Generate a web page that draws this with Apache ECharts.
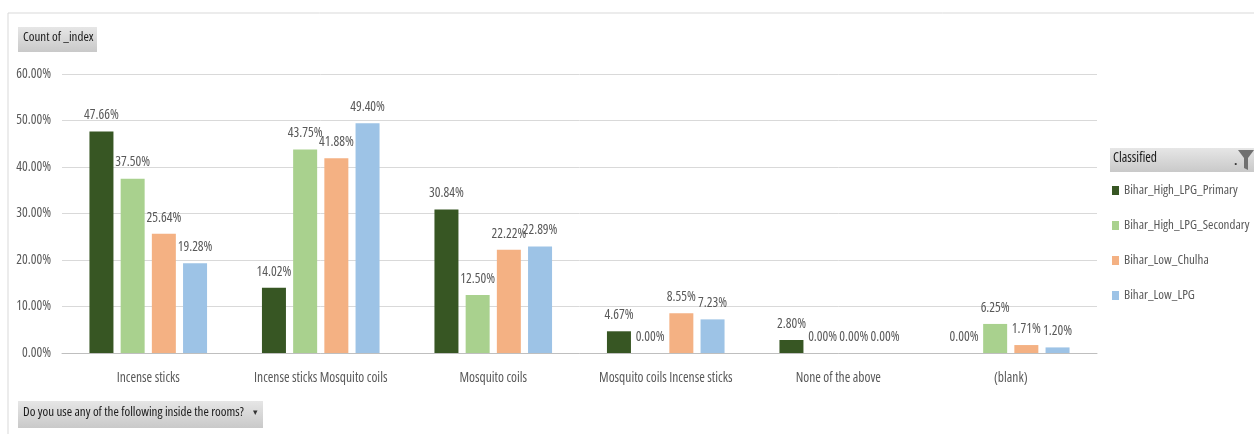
<!DOCTYPE html>
<html>
<head>
<meta charset="utf-8">
<script src="https://cdn.jsdelivr.net/npm/echarts@6/dist/echarts.min.js"></script>
<style>
  html, body { margin: 0; padding: 0; background: #fff; }
  #chart { width: 1254px; height: 434px; }
</style>
</head>
<body>
<div id="chart"></div>
<script>
var categories = ['Incense sticks', 'Incense sticks Mosquito coils', 'Mosquito coils',
  'Mosquito coils Incense sticks', 'None of the above', '(blank)'];
var seriesNames = ['Bihar_High_LPG_Primary', 'Bihar_High_LPG_Secondary', 'Bihar_Low_Chulha', 'Bihar_Low_LPG'];
var highPrimary = [47.66, 14.02, 30.84, 4.67, 2.80, 0.00];
var highSecondary = [37.50, 43.75, 12.50, 0.00, 0.00, 6.25];
var lowChulha = [25.64, 41.88, 22.22, 8.55, 0.00, 1.71];
var lowLpg = [19.28, 49.40, 22.89, 7.23, 0.00, 1.20];
var colors = ['#375623', '#a9d18e', '#f4b183', '#9dc3e6'];

// Open Sans has a condensed width, close to the narrow Excel font
var FONT = '"Open Sans", sans-serif';
var STRETCH = 'condensed';
var FS = 13.5;

var chart = echarts.init(document.getElementById('chart'));

var allData = [highPrimary, highSecondary, lowChulha, lowLpg];
var series = allData.map(function (d, i) {
  return {
    name: seriesNames[i],
    type: 'bar',
    data: d,
    barWidth: 24,
    barGap: '30%',
    itemStyle: { color: colors[i] },
    label: {
      show: true,
      position: 'top',
      distance: 9,
      color: '#595959',
      fontFamily: FONT,
      fontWeight: STRETCH,
      fontSize: FS,
      formatter: function (p) { return p.value.toFixed(2) + '%'; }
    }
  };
});

function btn(x, y, w, h, text) {
  return {
    type: 'group', left: x, top: y,
    children: [
      { type: 'rect', shape: { x: 0, y: 0, width: w, height: h },
        style: { fill: new echarts.graphic.LinearGradient(0, 0, 0, 1, [
          { offset: 0, color: '#e6e6e6' }, { offset: 1, color: '#c9c9c9' }]) } },
      { type: 'text', left: 5, top: (h - 17) / 2,
        style: { text: text, fill: '#1a1a1a', font: STRETCH + ' 13px ' + FONT } }
    ]
  };
}

chart.setOption({
  animation: false,
  color: colors,
  grid: { left: 62, right: 157, top: 74, bottom: 81, containLabel: false },
  xAxis: {
    type: 'category',
    data: categories,
    axisLine: { lineStyle: { color: '#bfbfbf' } },
    axisTick: { show: false },
    axisLabel: { color: '#595959', fontFamily: FONT, fontWeight: STRETCH, fontSize: FS, margin: 18, interval: 0 }
  },
  yAxis: {
    type: 'value',
    min: 0, max: 60, interval: 10,
    axisLine: { show: false },
    axisTick: { show: false },
    splitLine: { lineStyle: { color: '#d9d9d9' } },
    axisLabel: { color: '#595959', fontFamily: FONT, fontWeight: STRETCH, fontSize: FS, margin: 11,
      formatter: function (v) { return v.toFixed(2) + '%'; } }
  },
  legend: {
    orient: 'vertical',
    left: 1112, top: 184,
    itemWidth: 7, itemHeight: 9, itemGap: 22, padding: 0,
    icon: 'rect',
    textStyle: { color: '#595959', fontFamily: FONT, fontWeight: STRETCH, fontSize: 13 },
    data: seriesNames
  },
  graphic: [
    { type: 'line', shape: { x1: 8, y1: 13, x2: 1254, y2: 13 }, style: { stroke: '#d9d9d9', lineWidth: 1 } },
    { type: 'line', shape: { x1: 8, y1: 13, x2: 8, y2: 434 }, style: { stroke: '#d9d9d9', lineWidth: 1 } },
    btn(18, 27, 79, 25, 'Count of _index'),
    btn(18, 401, 245, 27, 'Do you use any of the following inside the rooms?'),
    { type: 'text', left: 253, top: 408, style: { text: '\u25be', fill: '#333', font: '9px "DejaVu Sans"' } },
    {
      type: 'group', left: 1110, top: 148,
      children: [
        { type: 'rect', shape: { x: 0, y: 0, width: 144, height: 24 },
          style: { fill: new echarts.graphic.LinearGradient(0, 0, 0, 1, [
            { offset: 0, color: '#e6e6e6' }, { offset: 1, color: '#c9c9c9' }]) } },
        { type: 'text', left: 3, top: 3, style: { text: 'Classified', fill: '#1a1a1a', font: STRETCH + ' ' + FS + 'px ' + FONT } },
        { type: 'polygon', shape: { points: [[128, 2], [144, 2], [138, 10], [138, 22], [134, 20], [134, 10]] },
          style: { fill: '#707070' } },
        { type: 'text', left: 124, top: 8, style: { text: '.', fill: '#333', font: 'bold 12px ' + FONT } }
      ]
    }
  ],
  series: series
});
</script>
</body>
</html>
